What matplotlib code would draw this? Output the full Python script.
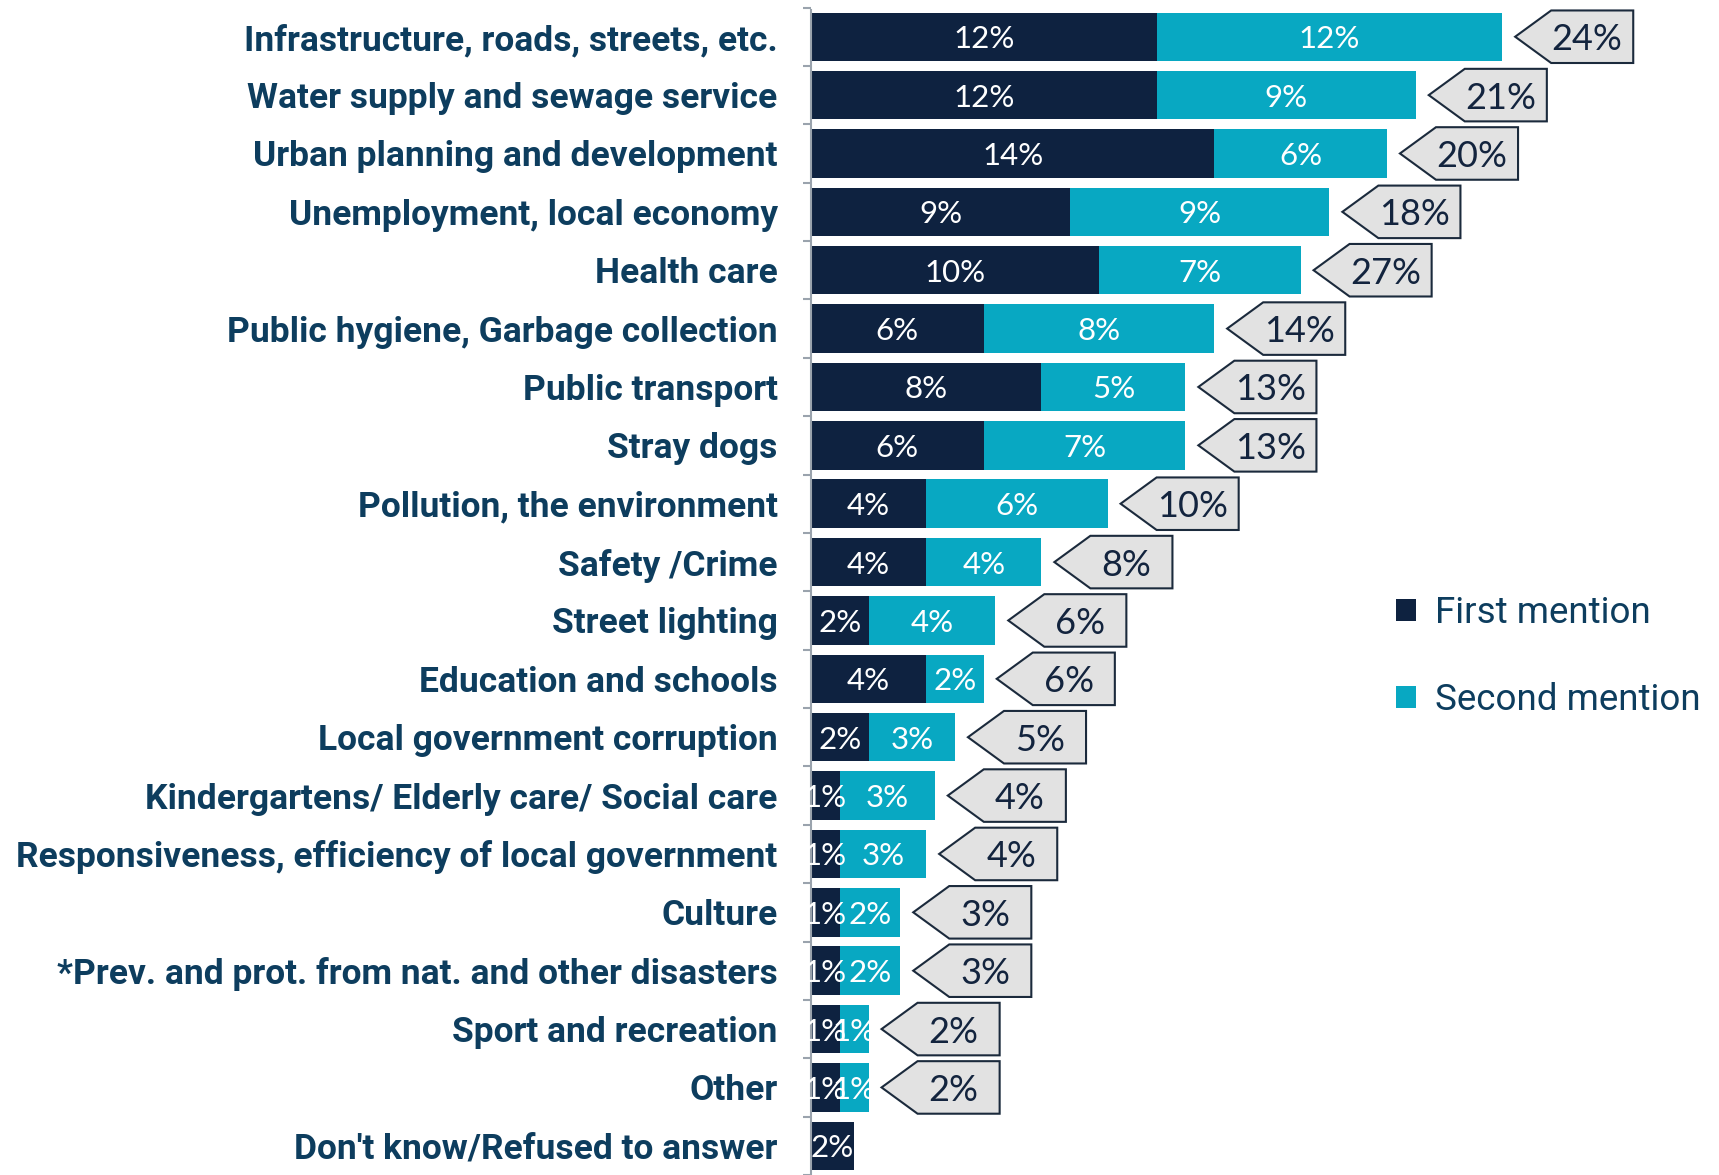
import numpy as np
import matplotlib
matplotlib.use("Agg")
import matplotlib.pyplot as plt
from matplotlib.patches import Polygon, Patch

plt.rcParams['font.family'] = ['Lato', 'DejaVu Sans']

categories = [
    'Infrastructure, roads, streets, etc.',
    'Water supply and sewage service',
    'Urban planning and development',
    'Unemployment, local economy',
    'Health care',
    'Public hygiene, Garbage collection',
    'Public transport',
    'Stray dogs',
    'Pollution, the environment',
    'Safety /Crime',
    'Street lighting',
    'Education and schools',
    'Local government corruption',
    'Kindergartens/ Elderly care/ Social care',
    'Responsiveness, efficiency of local government',
    'Culture',
    '*Prev. and prot. from nat. and other disasters',
    'Sport and recreation',
    'Other',
    "Don't know/Refused to answer",
]
first = [12, 12, 14, 9, 10, 6, 8, 6, 4, 4, 2, 4, 2, 1, 1, 1, 1, 1, 1, 1.5]
second = [12, 9, 6, 9, 7, 8, 5, 7, 6.3, 4, 4.4, 2, 3, 3.3, 3, 2.1, 2.1, 1, 1, 0]
totals = [24, 21, 20, 18, 27, 14, 13, 13, 10, 8, 6, 6, 5, 4, 4, 3, 3, 2, 2, None]

NAVY = '#0e2240'
TEAL = '#08a8c2'
LABEL = '#0d3d5e'
BOX_FILL = '#e2e2e2'
BOX_EDGE = '#1b2a3c'
CAT_FONT = ['Roboto', 'DejaVu Sans']

W, H = 1719, 1175
fig = plt.figure(figsize=(W / 100, H / 100), dpi=100)

# axes runs from the category axis line to the right edge, rows on 58.8 px pitch
x_left = 811
px_per_pct = 28.8
row0, pitch = 37, 58.8
ax = fig.add_axes([x_left / W, 0, 1 - x_left / W, 1])
ax.set_xlim(0, (W - x_left) / px_per_pct)
ax.set_ylim((H - row0) / pitch, -row0 / pitch)

y = np.arange(len(categories))
first = np.array(first, dtype=float)
second = np.array(second, dtype=float)
bh = 0.83

ax.barh(y, first, height=bh, color=NAVY, label='First mention')
ax.barh(y, second, left=first, height=bh, color=TEAL, label='Second mention')

for i in range(len(categories)):
    ax.text(first[i] / 2, i, f'{first[i]:.0f}%', ha='center',
            va='center_baseline', color='white', fontsize=22.5)
    if second[i] > 0:
        ax.text(first[i] + second[i] / 2, i, f'{second[i]:.0f}%', ha='center',
                va='center_baseline', color='white', fontsize=22.5)

# arrow-shaped callouts holding the combined share
gap, box_w, tip_d, box_h = 0.45, 4.1, 1.25, 0.9
for i, tot in enumerate(totals):
    if tot is None:
        continue
    x0 = first[i] + second[i] + gap
    pts = [(x0, i), (x0 + tip_d, i - box_h / 2), (x0 + box_w, i - box_h / 2),
           (x0 + box_w, i + box_h / 2), (x0 + tip_d, i + box_h / 2)]
    ax.add_patch(Polygon(pts, closed=True, facecolor=BOX_FILL,
                         edgecolor=BOX_EDGE, linewidth=1.5))
    ax.text(x0 + 2.5, i, f'{tot}%', ha='center', va='center_baseline',
            color='#13243e', fontsize=26)

# category axis: left spine with ticks between rows
for s in ['top', 'right', 'bottom']:
    ax.spines[s].set_visible(False)
ax.spines['left'].set_color('#9aa3ad')
ax.spines['left'].set_linewidth(1.5)
ax.spines['left'].set_bounds(-0.45, len(categories))
ax.set_xticks([])
ax.set_yticks(y)
ax.set_yticklabels(categories, fontsize=25.5, fontweight='bold', color=LABEL,
                   family=CAT_FONT)
ax.set_yticks(np.arange(-0.5, len(categories)), minor=True)
ax.tick_params(axis='y', which='major', length=0, pad=24)
ax.tick_params(axis='y', which='minor', length=6, width=1.5, color='#9aa3ad')

handles = [Patch(facecolor=NAVY), Patch(facecolor=TEAL)]
fig.legend(handles, ['First mention', 'Second mention'], loc='upper left',
           bbox_to_anchor=(1396 / W, 1 - 595 / H), frameon=False,
           prop={'family': CAT_FONT, 'size': 26.5}, handlelength=0.55,
           handleheight=0.55, handletextpad=0.5, labelspacing=1.38,
           borderpad=0, borderaxespad=0, labelcolor=LABEL)

fig.savefig('out.png', dpi=100)
